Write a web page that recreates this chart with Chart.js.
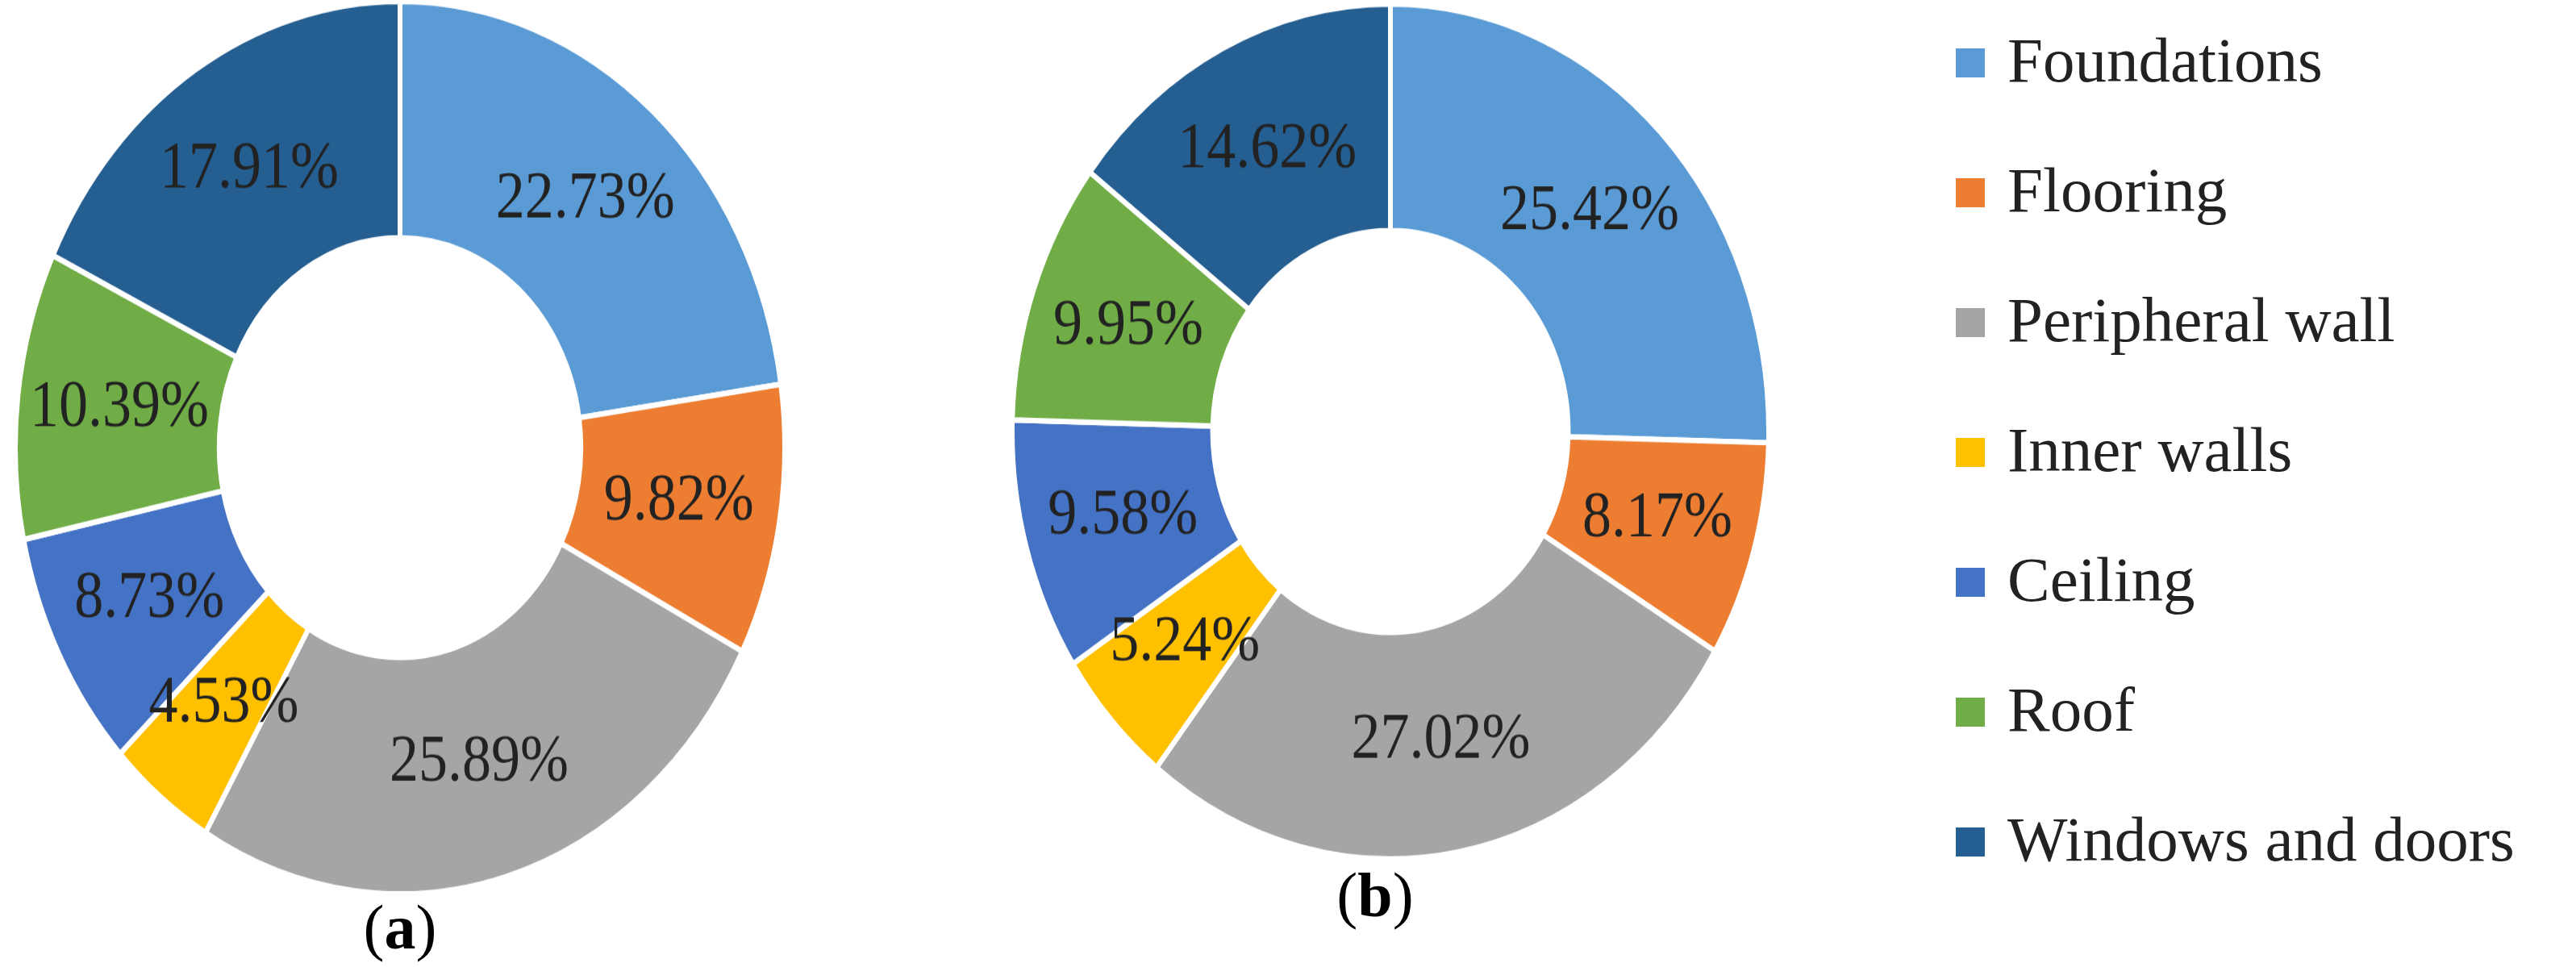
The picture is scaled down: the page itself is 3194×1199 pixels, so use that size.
<!DOCTYPE html>
<html>
<head>
<meta charset="utf-8">
<script src="https://cdn.jsdelivr.net/npm/chart.js@4"></script>
<style>
  body { margin: 0; width: 3194px; height: 1199px; background: #fff; position: relative; overflow: hidden; font-family: "Liberation Serif", serif; }
  canvas { position: absolute; }
  .wrap { position: absolute; transform-origin: 50% 50%; }
  .cap { position: absolute; font-size: 78px; color: #000; transform: translateX(-50%); }
  #legend { position: absolute; left: 2425px; top: 30px; }
  .row { height: 161px; display: flex; align-items: flex-start; font-size: 79px; color: #222; }
  .sw { width: 36px; height: 36px; margin-right: 28px; margin-top: 30px; }
</style>
</head>
<body>
<div class="wrap" style="left:16px;top:75px;width:960px;height:960px;transform:scaleY(1.16)"><canvas id="chart-a"></canvas></div>
<div class="wrap" style="left:1252px;top:63px;width:944px;height:944px;transform:scaleY(1.13)"><canvas id="chart-b"></canvas></div>
<div class="cap" style="left:496px;top:1105px">(<b>a</b>)</div>
<div class="cap" style="left:1705px;top:1065px">(<b>b</b>)</div>
<div id="legend"></div>
<script>
var categories = ["Foundations", "Flooring", "Peripheral wall", "Inner walls", "Ceiling", "Roof", "Windows and doors"];
var valuesA = [22.73, 9.82, 25.89, 4.53, 8.73, 10.39, 17.91];
var valuesB = [25.42, 8.17, 27.02, 5.24, 9.58, 9.95, 14.62];
var colors = ["#5B9BD5", "#ED7D31", "#A5A5A5", "#FFC000", "#4472C4", "#70AD47", "#255E91"];

var labelPlugin = {
    id: 'sliceLabels',
    afterDatasetsDraw: function (chart) {
        var ctx = chart.ctx;
        var meta = chart.getDatasetMeta(0);
        ctx.save();
        ctx.font = '72px "Liberation Serif", serif';
        ctx.fillStyle = '#222';
        ctx.textAlign = 'center';
        ctx.textBaseline = 'middle';
        meta.data.forEach(function (arc, i) {
            var p = arc.tooltipPosition();
            ctx.fillText(chart.data.datasets[0].data[i].toFixed(2) + '%', p.x, p.y);
        });
        ctx.restore();
    }
};

function makeDonut(id, values) {
    var ctx = document.getElementById(id).getContext('2d');
    return new Chart(ctx, {
        type: 'doughnut',
        data: {
            labels: categories,
            datasets: [{
                data: values,
                backgroundColor: colors,
                borderColor: '#fff',
                borderWidth: 6
            }]
        },
        options: {
            responsive: true,
            maintainAspectRatio: false,
            animation: false,
            cutout: '47%',
            plugins: { legend: { display: false }, tooltip: { enabled: false } }
        },
        plugins: [labelPlugin]
    });
}

makeDonut('chart-a', valuesA);
makeDonut('chart-b', valuesB);

var legend = document.getElementById('legend');
categories.forEach(function (c, i) {
    var row = document.createElement('div');
    row.className = 'row';
    row.innerHTML = '<div class="sw" style="background:' + colors[i] + '"></div><span>' + c + '</span>';
    legend.appendChild(row);
});
</script>
</body>
</html>
